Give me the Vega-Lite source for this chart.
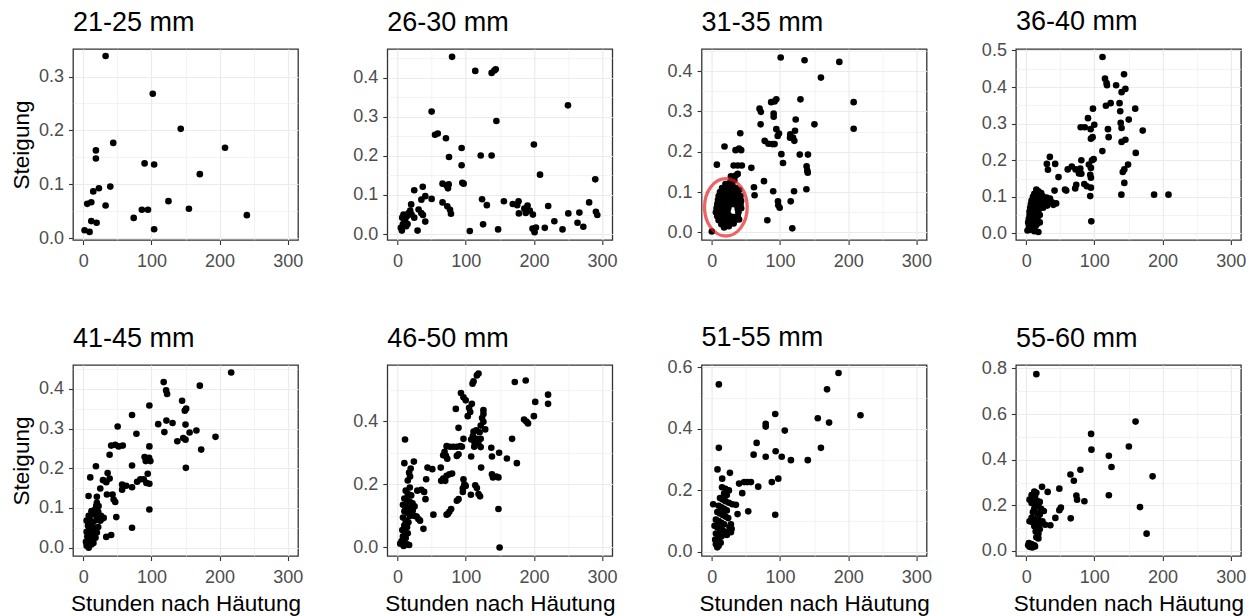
{
  "$schema": "https://vega.github.io/schema/vega-lite/v6.json",
  "background": "white",
  "padding": {"left": 9, "top": 7, "right": 2, "bottom": 2},
  "columns": 4,
  "bounds": "flush",
  "spacing": {"column": 89.3, "row": 125},
  "datasets": {
    "highlight": [{"hours": 20.6, "slope": 0.062}],
    "points": [
      {"group":"21-25 mm","hours":32.8,"slope":0.338},{"group":"21-25 mm","hours":102,"slope":0.268},{"group":"21-25 mm","hours":143,"slope":0.203},{"group":"21-25 mm","hours":208,"slope":0.168},{"group":"21-25 mm","hours":44,"slope":0.177},{"group":"21-25 mm","hours":18.6,"slope":0.163},{"group":"21-25 mm","hours":18.6,"slope":0.148},{"group":"21-25 mm","hours":90,"slope":0.139},{"group":"21-25 mm","hours":104,"slope":0.137},{"group":"21-25 mm","hours":171,"slope":0.119},{"group":"21-25 mm","hours":39.7,"slope":0.096},{"group":"21-25 mm","hours":23,"slope":0.093},{"group":"21-25 mm","hours":14.7,"slope":0.087},{"group":"21-25 mm","hours":11.8,"slope":0.067},{"group":"21-25 mm","hours":5.9,"slope":0.064},{"group":"21-25 mm","hours":32.8,"slope":0.061},{"group":"21-25 mm","hours":125,"slope":0.069},{"group":"21-25 mm","hours":86,"slope":0.053},{"group":"21-25 mm","hours":95,"slope":0.053},{"group":"21-25 mm","hours":155,"slope":0.055},{"group":"21-25 mm","hours":74,"slope":0.038},{"group":"21-25 mm","hours":11.8,"slope":0.032},{"group":"21-25 mm","hours":19.6,"slope":0.029},{"group":"21-25 mm","hours":240,"slope":0.043},{"group":"21-25 mm","hours":2,"slope":0.015},{"group":"21-25 mm","hours":9.3,"slope":0.012},{"group":"21-25 mm","hours":104,"slope":0.017},

      {"group":"26-30 mm","hours":80,"slope":0.453},{"group":"26-30 mm","hours":114,"slope":0.417},{"group":"26-30 mm","hours":138,"slope":0.412},{"group":"26-30 mm","hours":142,"slope":0.418},{"group":"26-30 mm","hours":144,"slope":0.421},{"group":"26-30 mm","hours":250,"slope":0.329},{"group":"26-30 mm","hours":50,"slope":0.313},{"group":"26-30 mm","hours":145,"slope":0.289},{"group":"26-30 mm","hours":55,"slope":0.254},{"group":"26-30 mm","hours":59,"slope":0.257},{"group":"26-30 mm","hours":71,"slope":0.245},{"group":"26-30 mm","hours":94,"slope":0.22},{"group":"26-30 mm","hours":200,"slope":0.229},{"group":"26-30 mm","hours":75.5,"slope":0.197},{"group":"26-30 mm","hours":122,"slope":0.201},{"group":"26-30 mm","hours":138,"slope":0.201},{"group":"26-30 mm","hours":94,"slope":0.176},{"group":"26-30 mm","hours":209,"slope":0.152},{"group":"26-30 mm","hours":290,"slope":0.14},{"group":"26-30 mm","hours":95,"slope":0.131},{"group":"26-30 mm","hours":97,"slope":0.129},{"group":"26-30 mm","hours":66,"slope":0.129},{"group":"26-30 mm","hours":72,"slope":0.124},{"group":"26-30 mm","hours":75,"slope":0.127},{"group":"26-30 mm","hours":74,"slope":0.117},{"group":"26-30 mm","hours":37,"slope":0.121},{"group":"26-30 mm","hours":24.5,"slope":0.112},{"group":"26-30 mm","hours":40.7,"slope":0.097},{"group":"26-30 mm","hours":50,"slope":0.09},{"group":"26-30 mm","hours":35,"slope":0.088},{"group":"26-30 mm","hours":66,"slope":0.081},{"group":"26-30 mm","hours":73,"slope":0.071},{"group":"26-30 mm","hours":77,"slope":0.062},{"group":"26-30 mm","hours":78.4,"slope":0.052},{"group":"26-30 mm","hours":124,"slope":0.089},{"group":"26-30 mm","hours":131,"slope":0.074},{"group":"26-30 mm","hours":156,"slope":0.084},{"group":"26-30 mm","hours":169,"slope":0.077},{"group":"26-30 mm","hours":177.5,"slope":0.084},{"group":"26-30 mm","hours":175.5,"slope":0.074},{"group":"26-30 mm","hours":178,"slope":0.053},{"group":"26-30 mm","hours":186,"slope":0.065},{"group":"26-30 mm","hours":190.7,"slope":0.073},{"group":"26-30 mm","hours":188,"slope":0.054},{"group":"26-30 mm","hours":194,"slope":0.06},{"group":"26-30 mm","hours":198.5,"slope":0.05},{"group":"26-30 mm","hours":221,"slope":0.072},{"group":"26-30 mm","hours":281,"slope":0.081},{"group":"26-30 mm","hours":250.5,"slope":0.053},{"group":"26-30 mm","hours":266.7,"slope":0.055},{"group":"26-30 mm","hours":264,"slope":0.029},{"group":"26-30 mm","hours":272.5,"slope":0.019},{"group":"26-30 mm","hours":291,"slope":0.057},{"group":"26-30 mm","hours":293,"slope":0.049},{"group":"26-30 mm","hours":216,"slope":0.016},{"group":"26-30 mm","hours":230,"slope":0.033},{"group":"26-30 mm","hours":242,"slope":0.012},{"group":"26-30 mm","hours":198,"slope":0.014},{"group":"26-30 mm","hours":201,"slope":0.005},{"group":"26-30 mm","hours":203,"slope":0.017},{"group":"26-30 mm","hours":125.5,"slope":0.025},{"group":"26-30 mm","hours":147.5,"slope":0.012},{"group":"26-30 mm","hours":106,"slope":0.008},{"group":"26-30 mm","hours":29.4,"slope":0.009},{"group":"26-30 mm","hours":4.9,"slope":0.016},{"group":"26-30 mm","hours":6.4,"slope":0.009},{"group":"26-30 mm","hours":7.8,"slope":0.025},{"group":"26-30 mm","hours":11.3,"slope":0.037},{"group":"26-30 mm","hours":13.7,"slope":0.046},{"group":"26-30 mm","hours":16.2,"slope":0.054},{"group":"26-30 mm","hours":18.6,"slope":0.06},{"group":"26-30 mm","hours":8.8,"slope":0.05},{"group":"26-30 mm","hours":10.3,"slope":0.033},{"group":"26-30 mm","hours":14.7,"slope":0.026},{"group":"26-30 mm","hours":20.6,"slope":0.05},{"group":"26-30 mm","hours":20,"slope":0.076},{"group":"26-30 mm","hours":24.5,"slope":0.042},{"group":"26-30 mm","hours":30.9,"slope":0.063},{"group":"26-30 mm","hours":34.8,"slope":0.054},{"group":"26-30 mm","hours":37.3,"slope":0.049},{"group":"26-30 mm","hours":40.7,"slope":0.032},{"group":"26-30 mm","hours":6.9,"slope":0.042},{"group":"26-30 mm","hours":12.7,"slope":0.02},

      {"group":"31-35 mm","hours":101,"slope":0.434},{"group":"31-35 mm","hours":136,"slope":0.427},{"group":"31-35 mm","hours":187,"slope":0.423},{"group":"31-35 mm","hours":160,"slope":0.384},{"group":"31-35 mm","hours":208,"slope":0.323},{"group":"31-35 mm","hours":208,"slope":0.257},{"group":"31-35 mm","hours":130,"slope":0.33},{"group":"31-35 mm","hours":87,"slope":0.323},{"group":"31-35 mm","hours":92,"slope":0.325},{"group":"31-35 mm","hours":94.6,"slope":0.33},{"group":"31-35 mm","hours":70,"slope":0.307},{"group":"31-35 mm","hours":72,"slope":0.299},{"group":"31-35 mm","hours":71.6,"slope":0.268},{"group":"31-35 mm","hours":90.7,"slope":0.295},{"group":"31-35 mm","hours":90.7,"slope":0.287},{"group":"31-35 mm","hours":123,"slope":0.28},{"group":"31-35 mm","hours":150.5,"slope":0.268},{"group":"31-35 mm","hours":94.6,"slope":0.256},{"group":"31-35 mm","hours":96.6,"slope":0.239},{"group":"31-35 mm","hours":98.5,"slope":0.245},{"group":"31-35 mm","hours":115,"slope":0.243},{"group":"31-35 mm","hours":119,"slope":0.235},{"group":"31-35 mm","hours":121,"slope":0.227},{"group":"31-35 mm","hours":122,"slope":0.252},{"group":"31-35 mm","hours":114.7,"slope":0.235},{"group":"31-35 mm","hours":41.7,"slope":0.246},{"group":"31-35 mm","hours":77.5,"slope":0.227},{"group":"31-35 mm","hours":83,"slope":0.22},{"group":"31-35 mm","hours":88.7,"slope":0.219},{"group":"31-35 mm","hours":92,"slope":0.219},{"group":"31-35 mm","hours":18.6,"slope":0.213},{"group":"31-35 mm","hours":34.8,"slope":0.204},{"group":"31-35 mm","hours":40,"slope":0.208},{"group":"31-35 mm","hours":43,"slope":0.204},{"group":"31-35 mm","hours":102,"slope":0.194},{"group":"31-35 mm","hours":129,"slope":0.193},{"group":"31-35 mm","hours":141,"slope":0.193},{"group":"31-35 mm","hours":104.4,"slope":0.172},{"group":"31-35 mm","hours":7.4,"slope":0.168},{"group":"31-35 mm","hours":32,"slope":0.166},{"group":"31-35 mm","hours":38,"slope":0.166},{"group":"31-35 mm","hours":44,"slope":0.166},{"group":"31-35 mm","hours":58,"slope":0.16},{"group":"31-35 mm","hours":139,"slope":0.164},{"group":"31-35 mm","hours":140,"slope":0.153},{"group":"31-35 mm","hours":140.7,"slope":0.148},{"group":"31-35 mm","hours":28,"slope":0.139},{"group":"31-35 mm","hours":35,"slope":0.141},{"group":"31-35 mm","hours":38,"slope":0.145},{"group":"31-35 mm","hours":76.5,"slope":0.127},{"group":"31-35 mm","hours":61.8,"slope":0.112},{"group":"31-35 mm","hours":62.7,"slope":0.092},{"group":"31-35 mm","hours":90,"slope":0.102},{"group":"31-35 mm","hours":120.6,"slope":0.102},{"group":"31-35 mm","hours":138.7,"slope":0.107},{"group":"31-35 mm","hours":97,"slope":0.077},{"group":"31-35 mm","hours":97.5,"slope":0.067},{"group":"31-35 mm","hours":99.5,"slope":0.061},{"group":"31-35 mm","hours":115.7,"slope":0.077},{"group":"31-35 mm","hours":81.4,"slope":0.03},{"group":"31-35 mm","hours":118,"slope":0.01},{"group":"31-35 mm","hours":0,"slope":0.002},
      {"group":"31-35 mm","hours":20,"slope":0.12},{"group":"31-35 mm","hours":27,"slope":0.125},{"group":"31-35 mm","hours":33,"slope":0.13},{"group":"31-35 mm","hours":30,"slope":0.118},{"group":"31-35 mm","hours":15,"slope":0.11},{"group":"31-35 mm","hours":22,"slope":0.108},{"group":"31-35 mm","hours":28,"slope":0.112},{"group":"31-35 mm","hours":35,"slope":0.11},{"group":"31-35 mm","hours":40,"slope":0.105},{"group":"31-35 mm","hours":12,"slope":0.1},{"group":"31-35 mm","hours":18,"slope":0.098},{"group":"31-35 mm","hours":24,"slope":0.1},{"group":"31-35 mm","hours":32,"slope":0.1},{"group":"31-35 mm","hours":38,"slope":0.097},{"group":"31-35 mm","hours":10,"slope":0.09},{"group":"31-35 mm","hours":16,"slope":0.088},{"group":"31-35 mm","hours":21,"slope":0.092},{"group":"31-35 mm","hours":27,"slope":0.09},{"group":"31-35 mm","hours":34,"slope":0.088},{"group":"31-35 mm","hours":42,"slope":0.09},{"group":"31-35 mm","hours":9,"slope":0.08},{"group":"31-35 mm","hours":14,"slope":0.078},{"group":"31-35 mm","hours":19,"slope":0.082},{"group":"31-35 mm","hours":25,"slope":0.08},{"group":"31-35 mm","hours":31,"slope":0.078},{"group":"31-35 mm","hours":37,"slope":0.08},{"group":"31-35 mm","hours":43,"slope":0.078},{"group":"31-35 mm","hours":8,"slope":0.07},{"group":"31-35 mm","hours":13,"slope":0.068},{"group":"31-35 mm","hours":18,"slope":0.072},{"group":"31-35 mm","hours":23,"slope":0.07},{"group":"31-35 mm","hours":29,"slope":0.07},{"group":"31-35 mm","hours":36,"slope":0.068},{"group":"31-35 mm","hours":42,"slope":0.07},{"group":"31-35 mm","hours":7,"slope":0.06},{"group":"31-35 mm","hours":12,"slope":0.058},{"group":"31-35 mm","hours":18,"slope":0.062},{"group":"31-35 mm","hours":24,"slope":0.06},{"group":"31-35 mm","hours":38,"slope":0.058},{"group":"31-35 mm","hours":43,"slope":0.06},{"group":"31-35 mm","hours":6,"slope":0.05},{"group":"31-35 mm","hours":11,"slope":0.048},{"group":"31-35 mm","hours":17,"slope":0.052},{"group":"31-35 mm","hours":23,"slope":0.05},{"group":"31-35 mm","hours":39,"slope":0.05},{"group":"31-35 mm","hours":8,"slope":0.04},{"group":"31-35 mm","hours":14,"slope":0.038},{"group":"31-35 mm","hours":20,"slope":0.042},{"group":"31-35 mm","hours":27,"slope":0.04},{"group":"31-35 mm","hours":33,"slope":0.038},{"group":"31-35 mm","hours":38,"slope":0.04},{"group":"31-35 mm","hours":10,"slope":0.03},{"group":"31-35 mm","hours":16,"slope":0.028},{"group":"31-35 mm","hours":22,"slope":0.03},{"group":"31-35 mm","hours":28,"slope":0.028},{"group":"31-35 mm","hours":34,"slope":0.03},{"group":"31-35 mm","hours":40,"slope":0.032},{"group":"31-35 mm","hours":14,"slope":0.02},{"group":"31-35 mm","hours":20,"slope":0.022},{"group":"31-35 mm","hours":26,"slope":0.02},{"group":"31-35 mm","hours":32,"slope":0.022},{"group":"31-35 mm","hours":18,"slope":0.012},{"group":"31-35 mm","hours":25,"slope":0.015},

      {"group":"36-40 mm","hours":112,"slope":0.482},{"group":"36-40 mm","hours":143.6,"slope":0.435},{"group":"36-40 mm","hours":115.7,"slope":0.423},{"group":"36-40 mm","hours":118,"slope":0.411},{"group":"36-40 mm","hours":118.6,"slope":0.405},{"group":"36-40 mm","hours":132,"slope":0.405},{"group":"36-40 mm","hours":145.6,"slope":0.395},{"group":"36-40 mm","hours":140,"slope":0.386},{"group":"36-40 mm","hours":117,"slope":0.349},{"group":"36-40 mm","hours":124,"slope":0.356},{"group":"36-40 mm","hours":137,"slope":0.356},{"group":"36-40 mm","hours":138,"slope":0.334},{"group":"36-40 mm","hours":160,"slope":0.341},{"group":"36-40 mm","hours":98,"slope":0.341},{"group":"36-40 mm","hours":90.7,"slope":0.315},{"group":"36-40 mm","hours":80,"slope":0.29},{"group":"36-40 mm","hours":86,"slope":0.29},{"group":"36-40 mm","hours":94.6,"slope":0.285},{"group":"36-40 mm","hours":100,"slope":0.297},{"group":"36-40 mm","hours":97.5,"slope":0.263},{"group":"36-40 mm","hours":95,"slope":0.259},{"group":"36-40 mm","hours":120,"slope":0.285},{"group":"36-40 mm","hours":121,"slope":0.263},{"group":"36-40 mm","hours":138.7,"slope":0.302},{"group":"36-40 mm","hours":140,"slope":0.288},{"group":"36-40 mm","hours":150.5,"slope":0.311},{"group":"36-40 mm","hours":171,"slope":0.281},{"group":"36-40 mm","hours":145.6,"slope":0.256},{"group":"36-40 mm","hours":140,"slope":0.25},{"group":"36-40 mm","hours":111.8,"slope":0.225},{"group":"36-40 mm","hours":160.8,"slope":0.22},{"group":"36-40 mm","hours":34.8,"slope":0.209},{"group":"36-40 mm","hours":30.4,"slope":0.19},{"group":"36-40 mm","hours":42.6,"slope":0.19},{"group":"36-40 mm","hours":32,"slope":0.174},{"group":"36-40 mm","hours":47.5,"slope":0.154},{"group":"36-40 mm","hours":41.7,"slope":0.117},{"group":"36-40 mm","hours":57,"slope":0.12},{"group":"36-40 mm","hours":58.8,"slope":0.117},{"group":"36-40 mm","hours":61,"slope":0.175},{"group":"36-40 mm","hours":67,"slope":0.183},{"group":"36-40 mm","hours":72.5,"slope":0.175},{"group":"36-40 mm","hours":79.4,"slope":0.177},{"group":"36-40 mm","hours":81,"slope":0.2},{"group":"36-40 mm","hours":77.5,"slope":0.164},{"group":"36-40 mm","hours":81,"slope":0.163},{"group":"36-40 mm","hours":73.5,"slope":0.133},{"group":"36-40 mm","hours":72,"slope":0.123},{"group":"36-40 mm","hours":85.3,"slope":0.135},{"group":"36-40 mm","hours":89,"slope":0.129},{"group":"36-40 mm","hours":95,"slope":0.125},{"group":"36-40 mm","hours":94,"slope":0.102},{"group":"36-40 mm","hours":92,"slope":0.188},{"group":"36-40 mm","hours":95,"slope":0.179},{"group":"36-40 mm","hours":96.6,"slope":0.2},{"group":"36-40 mm","hours":99,"slope":0.203},{"group":"36-40 mm","hours":94,"slope":0.16},{"group":"36-40 mm","hours":95,"slope":0.152},{"group":"36-40 mm","hours":95.6,"slope":0.033},{"group":"36-40 mm","hours":149.5,"slope":0.188},{"group":"36-40 mm","hours":144,"slope":0.175},{"group":"36-40 mm","hours":141.7,"slope":0.168},{"group":"36-40 mm","hours":144,"slope":0.138},{"group":"36-40 mm","hours":139.7,"slope":0.106},{"group":"36-40 mm","hours":187.7,"slope":0.106},{"group":"36-40 mm","hours":208.8,"slope":0.106},
      {"group":"36-40 mm","hours":15,"slope":0.12},{"group":"36-40 mm","hours":18,"slope":0.115},{"group":"36-40 mm","hours":12,"slope":0.108},{"group":"36-40 mm","hours":22,"slope":0.11},{"group":"36-40 mm","hours":10,"slope":0.1},{"group":"36-40 mm","hours":14,"slope":0.098},{"group":"36-40 mm","hours":18,"slope":0.1},{"group":"36-40 mm","hours":24,"slope":0.102},{"group":"36-40 mm","hours":30,"slope":0.098},{"group":"36-40 mm","hours":35,"slope":0.095},{"group":"36-40 mm","hours":8,"slope":0.09},{"group":"36-40 mm","hours":12,"slope":0.088},{"group":"36-40 mm","hours":16,"slope":0.09},{"group":"36-40 mm","hours":21,"slope":0.092},{"group":"36-40 mm","hours":27,"slope":0.09},{"group":"36-40 mm","hours":33,"slope":0.088},{"group":"36-40 mm","hours":38,"slope":0.085},{"group":"36-40 mm","hours":44,"slope":0.082},{"group":"36-40 mm","hours":7,"slope":0.08},{"group":"36-40 mm","hours":11,"slope":0.078},{"group":"36-40 mm","hours":15,"slope":0.08},{"group":"36-40 mm","hours":20,"slope":0.078},{"group":"36-40 mm","hours":26,"slope":0.08},{"group":"36-40 mm","hours":31,"slope":0.076},{"group":"36-40 mm","hours":40,"slope":0.078},{"group":"36-40 mm","hours":6,"slope":0.07},{"group":"36-40 mm","hours":10,"slope":0.068},{"group":"36-40 mm","hours":14,"slope":0.07},{"group":"36-40 mm","hours":19,"slope":0.068},{"group":"36-40 mm","hours":25,"slope":0.07},{"group":"36-40 mm","hours":5,"slope":0.06},{"group":"36-40 mm","hours":9,"slope":0.058},{"group":"36-40 mm","hours":13,"slope":0.06},{"group":"36-40 mm","hours":18,"slope":0.057},{"group":"36-40 mm","hours":5,"slope":0.05},{"group":"36-40 mm","hours":8,"slope":0.048},{"group":"36-40 mm","hours":12,"slope":0.05},{"group":"36-40 mm","hours":16,"slope":0.046},{"group":"36-40 mm","hours":20,"slope":0.05},{"group":"36-40 mm","hours":4,"slope":0.04},{"group":"36-40 mm","hours":8,"slope":0.038},{"group":"36-40 mm","hours":12,"slope":0.04},{"group":"36-40 mm","hours":17,"slope":0.036},{"group":"36-40 mm","hours":3,"slope":0.03},{"group":"36-40 mm","hours":7,"slope":0.028},{"group":"36-40 mm","hours":11,"slope":0.03},{"group":"36-40 mm","hours":16,"slope":0.026},{"group":"36-40 mm","hours":20,"slope":0.03},{"group":"36-40 mm","hours":4,"slope":0.02},{"group":"36-40 mm","hours":9,"slope":0.018},{"group":"36-40 mm","hours":14,"slope":0.02},{"group":"36-40 mm","hours":2,"slope":0.008},{"group":"36-40 mm","hours":6,"slope":0.01},{"group":"36-40 mm","hours":12,"slope":0.006},{"group":"36-40 mm","hours":18,"slope":0.004},

      {"group":"41-45 mm","hours":217,"slope":0.441},{"group":"41-45 mm","hours":118,"slope":0.417},{"group":"41-45 mm","hours":171,"slope":0.408},{"group":"41-45 mm","hours":121.6,"slope":0.396},{"group":"41-45 mm","hours":123,"slope":0.387},{"group":"41-45 mm","hours":97,"slope":0.358},{"group":"41-45 mm","hours":145,"slope":0.37},{"group":"41-45 mm","hours":151,"slope":0.35},{"group":"41-45 mm","hours":149,"slope":0.345},{"group":"41-45 mm","hours":71.6,"slope":0.334},{"group":"41-45 mm","hours":50.5,"slope":0.305},{"group":"41-45 mm","hours":110,"slope":0.311},{"group":"41-45 mm","hours":119,"slope":0.291},{"group":"41-45 mm","hours":122,"slope":0.32},{"group":"41-45 mm","hours":131,"slope":0.314},{"group":"41-45 mm","hours":150,"slope":0.31},{"group":"41-45 mm","hours":78,"slope":0.287},{"group":"41-45 mm","hours":166,"slope":0.295},{"group":"41-45 mm","hours":156,"slope":0.29},{"group":"41-45 mm","hours":194,"slope":0.279},{"group":"41-45 mm","hours":138,"slope":0.268},{"group":"41-45 mm","hours":146.6,"slope":0.276},{"group":"41-45 mm","hours":150,"slope":0.272},{"group":"41-45 mm","hours":173,"slope":0.247},{"group":"41-45 mm","hours":150.5,"slope":0.201},{"group":"41-45 mm","hours":41,"slope":0.257},{"group":"41-45 mm","hours":47,"slope":0.259},{"group":"41-45 mm","hours":52,"slope":0.255},{"group":"41-45 mm","hours":58,"slope":0.257},{"group":"41-45 mm","hours":97,"slope":0.255},{"group":"41-45 mm","hours":38.7,"slope":0.234},{"group":"41-45 mm","hours":90,"slope":0.228},{"group":"41-45 mm","hours":93.6,"slope":0.222},{"group":"41-45 mm","hours":96.6,"slope":0.226},{"group":"41-45 mm","hours":98.5,"slope":0.218},{"group":"41-45 mm","hours":91.7,"slope":0.218},{"group":"41-45 mm","hours":71.6,"slope":0.207},{"group":"41-45 mm","hours":18.6,"slope":0.205},{"group":"41-45 mm","hours":94.6,"slope":0.186},{"group":"41-45 mm","hours":97,"slope":0.161},{"group":"41-45 mm","hours":35.8,"slope":0.188},{"group":"41-45 mm","hours":38.7,"slope":0.174},{"group":"41-45 mm","hours":29,"slope":0.17},{"group":"41-45 mm","hours":33.8,"slope":0.165},{"group":"41-45 mm","hours":10.3,"slope":0.177},{"group":"41-45 mm","hours":57,"slope":0.159},{"group":"41-45 mm","hours":57,"slope":0.146},{"group":"41-45 mm","hours":63,"slope":0.156},{"group":"41-45 mm","hours":71.6,"slope":0.152},{"group":"41-45 mm","hours":79,"slope":0.166},{"group":"41-45 mm","hours":83.8,"slope":0.172},{"group":"41-45 mm","hours":88.7,"slope":0.172},{"group":"41-45 mm","hours":92.6,"slope":0.163},{"group":"41-45 mm","hours":25,"slope":0.149},{"group":"41-45 mm","hours":20,"slope":0.128},{"group":"41-45 mm","hours":34.8,"slope":0.134},{"group":"41-45 mm","hours":43,"slope":0.134},{"group":"41-45 mm","hours":44.6,"slope":0.121},{"group":"41-45 mm","hours":47,"slope":0.115},{"group":"41-45 mm","hours":48.5,"slope":0.077},{"group":"41-45 mm","hours":97,"slope":0.096},{"group":"41-45 mm","hours":7.8,"slope":0.13},{"group":"41-45 mm","hours":20,"slope":0.113},{"group":"41-45 mm","hours":22.5,"slope":0.105},{"group":"41-45 mm","hours":19,"slope":0.105},{"group":"41-45 mm","hours":33.8,"slope":0.027},{"group":"41-45 mm","hours":41,"slope":0.032},{"group":"41-45 mm","hours":71.6,"slope":0.05},{"group":"41-45 mm","hours":27.5,"slope":0.073},
      {"group":"41-45 mm","hours":5,"slope":0.005},{"group":"41-45 mm","hours":8,"slope":0.0},{"group":"41-45 mm","hours":12,"slope":0.008},{"group":"41-45 mm","hours":4,"slope":0.015},{"group":"41-45 mm","hours":10,"slope":0.02},{"group":"41-45 mm","hours":15,"slope":0.012},{"group":"41-45 mm","hours":6,"slope":0.028},{"group":"41-45 mm","hours":12,"slope":0.03},{"group":"41-45 mm","hours":18,"slope":0.025},{"group":"41-45 mm","hours":5,"slope":0.04},{"group":"41-45 mm","hours":9,"slope":0.045},{"group":"41-45 mm","hours":14,"slope":0.04},{"group":"41-45 mm","hours":20,"slope":0.038},{"group":"41-45 mm","hours":7,"slope":0.055},{"group":"41-45 mm","hours":12,"slope":0.058},{"group":"41-45 mm","hours":17,"slope":0.05},{"group":"41-45 mm","hours":22,"slope":0.052},{"group":"41-45 mm","hours":5,"slope":0.068},{"group":"41-45 mm","hours":10,"slope":0.07},{"group":"41-45 mm","hours":15,"slope":0.065},{"group":"41-45 mm","hours":20,"slope":0.07},{"group":"41-45 mm","hours":25,"slope":0.068},{"group":"41-45 mm","hours":8,"slope":0.08},{"group":"41-45 mm","hours":13,"slope":0.085},{"group":"41-45 mm","hours":18,"slope":0.082},{"group":"41-45 mm","hours":12,"slope":0.092},{"group":"41-45 mm","hours":17,"slope":0.095},{"group":"41-45 mm","hours":22,"slope":0.09},{"group":"41-45 mm","hours":26,"slope":0.08},{"group":"41-45 mm","hours":30,"slope":0.075},

      {"group":"46-50 mm","hours":118.8,"slope":0.551},{"group":"46-50 mm","hours":116.4,"slope":0.545},{"group":"46-50 mm","hours":111.5,"slope":0.526},{"group":"46-50 mm","hours":110,"slope":0.519},{"group":"46-50 mm","hours":172,"slope":0.524},{"group":"46-50 mm","hours":188,"slope":0.529},{"group":"46-50 mm","hours":220.8,"slope":0.484},{"group":"46-50 mm","hours":220.8,"slope":0.455},{"group":"46-50 mm","hours":202,"slope":0.461},{"group":"46-50 mm","hours":200,"slope":0.416},{"group":"46-50 mm","hours":185.6,"slope":0.405},{"group":"46-50 mm","hours":189,"slope":0.399},{"group":"46-50 mm","hours":191.4,"slope":0.393},{"group":"46-50 mm","hours":93,"slope":0.489},{"group":"46-50 mm","hours":96.7,"slope":0.476},{"group":"46-50 mm","hours":100,"slope":0.466},{"group":"46-50 mm","hours":109,"slope":0.455},{"group":"46-50 mm","hours":105,"slope":0.442},{"group":"46-50 mm","hours":106.6,"slope":0.429},{"group":"46-50 mm","hours":103,"slope":0.416},{"group":"46-50 mm","hours":85.5,"slope":0.439},{"group":"46-50 mm","hours":126,"slope":0.435},{"group":"46-50 mm","hours":126,"slope":0.423},{"group":"46-50 mm","hours":124,"slope":0.41},{"group":"46-50 mm","hours":126,"slope":0.398},{"group":"46-50 mm","hours":122,"slope":0.386},{"group":"46-50 mm","hours":128.6,"slope":0.374},{"group":"46-50 mm","hours":120.4,"slope":0.365},{"group":"46-50 mm","hours":89.5,"slope":0.379},{"group":"46-50 mm","hours":111.5,"slope":0.367},{"group":"46-50 mm","hours":115.4,"slope":0.371},{"group":"46-50 mm","hours":110.5,"slope":0.353},{"group":"46-50 mm","hours":108,"slope":0.342},{"group":"46-50 mm","hours":113,"slope":0.332},{"group":"46-50 mm","hours":116.4,"slope":0.344},{"group":"46-50 mm","hours":118.8,"slope":0.327},{"group":"46-50 mm","hours":122,"slope":0.318},{"group":"46-50 mm","hours":122,"slope":0.344},{"group":"46-50 mm","hours":96.7,"slope":0.344},{"group":"46-50 mm","hours":137.5,"slope":0.316},{"group":"46-50 mm","hours":138.5,"slope":0.288},{"group":"46-50 mm","hours":149,"slope":0.3},{"group":"46-50 mm","hours":168,"slope":0.344},{"group":"46-50 mm","hours":160.5,"slope":0.282},{"group":"46-50 mm","hours":175,"slope":0.267},{"group":"46-50 mm","hours":112.5,"slope":0.319},{"group":"46-50 mm","hours":72,"slope":0.321},{"group":"46-50 mm","hours":77,"slope":0.319},{"group":"46-50 mm","hours":82,"slope":0.319},{"group":"46-50 mm","hours":87,"slope":0.319},{"group":"46-50 mm","hours":92,"slope":0.321},{"group":"46-50 mm","hours":94.4,"slope":0.319},{"group":"46-50 mm","hours":69,"slope":0.303},{"group":"46-50 mm","hours":71,"slope":0.29},{"group":"46-50 mm","hours":73,"slope":0.281},{"group":"46-50 mm","hours":67,"slope":0.292},{"group":"46-50 mm","hours":87,"slope":0.29},{"group":"46-50 mm","hours":89.5,"slope":0.295},{"group":"46-50 mm","hours":108,"slope":0.288},{"group":"46-50 mm","hours":11,"slope":0.342},{"group":"46-50 mm","hours":24,"slope":0.272},{"group":"46-50 mm","hours":10,"slope":0.267},{"group":"46-50 mm","hours":19.3,"slope":0.25},{"group":"46-50 mm","hours":17,"slope":0.237},{"group":"46-50 mm","hours":18.4,"slope":0.225},{"group":"46-50 mm","hours":15,"slope":0.212},{"group":"46-50 mm","hours":44,"slope":0.253},{"group":"46-50 mm","hours":51,"slope":0.248},{"group":"46-50 mm","hours":63.4,"slope":0.253},{"group":"46-50 mm","hours":42,"slope":0.216},{"group":"46-50 mm","hours":67,"slope":0.218},{"group":"46-50 mm","hours":72,"slope":0.227},{"group":"46-50 mm","hours":76,"slope":0.232},{"group":"46-50 mm","hours":80,"slope":0.234},{"group":"46-50 mm","hours":70,"slope":0.211},{"group":"46-50 mm","hours":64,"slope":0.211},{"group":"46-50 mm","hours":96.7,"slope":0.216},{"group":"46-50 mm","hours":98,"slope":0.2},{"group":"46-50 mm","hours":95.8,"slope":0.187},{"group":"46-50 mm","hours":95.8,"slope":0.176},{"group":"46-50 mm","hours":100,"slope":0.195},{"group":"46-50 mm","hours":107.6,"slope":0.167},{"group":"46-50 mm","hours":114,"slope":0.197},{"group":"46-50 mm","hours":116.4,"slope":0.188},{"group":"46-50 mm","hours":118.8,"slope":0.169},{"group":"46-50 mm","hours":121,"slope":0.162},{"group":"46-50 mm","hours":122.6,"slope":0.253},{"group":"46-50 mm","hours":138.5,"slope":0.232},{"group":"46-50 mm","hours":140,"slope":0.222},{"group":"46-50 mm","hours":145,"slope":0.225},{"group":"46-50 mm","hours":148,"slope":0.222},{"group":"46-50 mm","hours":148,"slope":0.122},{"group":"46-50 mm","hours":149.7,"slope":0.0},{"group":"46-50 mm","hours":29,"slope":0.18},{"group":"46-50 mm","hours":35,"slope":0.183},{"group":"46-50 mm","hours":39,"slope":0.176},{"group":"46-50 mm","hours":41,"slope":0.153},{"group":"46-50 mm","hours":52.6,"slope":0.104},{"group":"46-50 mm","hours":72,"slope":0.104},{"group":"46-50 mm","hours":76,"slope":0.113},{"group":"46-50 mm","hours":78.6,"slope":0.122},{"group":"46-50 mm","hours":73.8,"slope":0.106},{"group":"46-50 mm","hours":87,"slope":0.148},{"group":"46-50 mm","hours":89.5,"slope":0.153},{"group":"46-50 mm","hours":28,"slope":0.098},{"group":"46-50 mm","hours":30.6,"slope":0.09},{"group":"46-50 mm","hours":33,"slope":0.085},{"group":"46-50 mm","hours":38,"slope":0.059},{"group":"46-50 mm","hours":22.3,"slope":0.117},{"group":"46-50 mm","hours":25,"slope":0.1},
      {"group":"46-50 mm","hours":18,"slope":0.19},{"group":"46-50 mm","hours":12,"slope":0.18},{"group":"46-50 mm","hours":15,"slope":0.17},{"group":"46-50 mm","hours":20,"slope":0.165},{"group":"46-50 mm","hours":10,"slope":0.155},{"group":"46-50 mm","hours":14,"slope":0.15},{"group":"46-50 mm","hours":18,"slope":0.145},{"group":"46-50 mm","hours":22,"slope":0.14},{"group":"46-50 mm","hours":8,"slope":0.135},{"group":"46-50 mm","hours":12,"slope":0.13},{"group":"46-50 mm","hours":16,"slope":0.125},{"group":"46-50 mm","hours":20,"slope":0.12},{"group":"46-50 mm","hours":25,"slope":0.13},{"group":"46-50 mm","hours":10,"slope":0.115},{"group":"46-50 mm","hours":14,"slope":0.11},{"group":"46-50 mm","hours":18,"slope":0.1},{"group":"46-50 mm","hours":8,"slope":0.095},{"group":"46-50 mm","hours":12,"slope":0.085},{"group":"46-50 mm","hours":16,"slope":0.08},{"group":"46-50 mm","hours":10,"slope":0.07},{"group":"46-50 mm","hours":14,"slope":0.065},{"group":"46-50 mm","hours":7,"slope":0.055},{"group":"46-50 mm","hours":11,"slope":0.05},{"group":"46-50 mm","hours":15,"slope":0.045},{"group":"46-50 mm","hours":8,"slope":0.035},{"group":"46-50 mm","hours":12,"slope":0.03},{"group":"46-50 mm","hours":6,"slope":0.02},{"group":"46-50 mm","hours":10,"slope":0.015},{"group":"46-50 mm","hours":14,"slope":0.01},{"group":"46-50 mm","hours":4,"slope":0.012},{"group":"46-50 mm","hours":17,"slope":0.008},{"group":"46-50 mm","hours":9,"slope":0.005},

      {"group":"51-55 mm","hours":185.8,"slope":0.581},{"group":"51-55 mm","hours":169,"slope":0.528},{"group":"51-55 mm","hours":172,"slope":0.42},{"group":"51-55 mm","hours":155.4,"slope":0.434},{"group":"51-55 mm","hours":218,"slope":0.444},{"group":"51-55 mm","hours":160,"slope":0.338},{"group":"51-55 mm","hours":140.7,"slope":0.298},{"group":"51-55 mm","hours":10.3,"slope":0.544},{"group":"51-55 mm","hours":93,"slope":0.448},{"group":"51-55 mm","hours":79,"slope":0.416},{"group":"51-55 mm","hours":79,"slope":0.407},{"group":"51-55 mm","hours":107,"slope":0.394},{"group":"51-55 mm","hours":65.7,"slope":0.354},{"group":"51-55 mm","hours":10.3,"slope":0.338},{"group":"51-55 mm","hours":61.3,"slope":0.316},{"group":"51-55 mm","hours":79,"slope":0.309},{"group":"51-55 mm","hours":93.6,"slope":0.327},{"group":"51-55 mm","hours":102.5,"slope":0.309},{"group":"51-55 mm","hours":116,"slope":0.298},{"group":"51-55 mm","hours":8.3,"slope":0.268},{"group":"51-55 mm","hours":15.2,"slope":0.238},{"group":"51-55 mm","hours":26.5,"slope":0.257},{"group":"51-55 mm","hours":40,"slope":0.222},{"group":"51-55 mm","hours":47.5,"slope":0.227},{"group":"51-55 mm","hours":52,"slope":0.227},{"group":"51-55 mm","hours":57.4,"slope":0.227},{"group":"51-55 mm","hours":68,"slope":0.212},{"group":"51-55 mm","hours":88,"slope":0.227},{"group":"51-55 mm","hours":97.5,"slope":0.238},{"group":"51-55 mm","hours":93,"slope":0.121},{"group":"51-55 mm","hours":44.6,"slope":0.191},{"group":"51-55 mm","hours":53.4,"slope":0.132},{"group":"51-55 mm","hours":2,"slope":0.155},{"group":"51-55 mm","hours":37.7,"slope":0.123},{"group":"51-55 mm","hours":35.3,"slope":0.153},{"group":"51-55 mm","hours":29,"slope":0.075},{"group":"51-55 mm","hours":28,"slope":0.064},
      {"group":"51-55 mm","hours":15,"slope":0.21},{"group":"51-55 mm","hours":20,"slope":0.205},{"group":"51-55 mm","hours":25,"slope":0.2},{"group":"51-55 mm","hours":18,"slope":0.19},{"group":"51-55 mm","hours":22,"slope":0.185},{"group":"51-55 mm","hours":12,"slope":0.175},{"group":"51-55 mm","hours":16,"slope":0.17},{"group":"51-55 mm","hours":20,"slope":0.165},{"group":"51-55 mm","hours":25,"slope":0.16},{"group":"51-55 mm","hours":30,"slope":0.155},{"group":"51-55 mm","hours":10,"slope":0.15},{"group":"51-55 mm","hours":14,"slope":0.145},{"group":"51-55 mm","hours":18,"slope":0.14},{"group":"51-55 mm","hours":22,"slope":0.135},{"group":"51-55 mm","hours":8,"slope":0.13},{"group":"51-55 mm","hours":12,"slope":0.125},{"group":"51-55 mm","hours":16,"slope":0.12},{"group":"51-55 mm","hours":20,"slope":0.115},{"group":"51-55 mm","hours":24,"slope":0.11},{"group":"51-55 mm","hours":6,"slope":0.105},{"group":"51-55 mm","hours":10,"slope":0.1},{"group":"51-55 mm","hours":14,"slope":0.095},{"group":"51-55 mm","hours":18,"slope":0.09},{"group":"51-55 mm","hours":4,"slope":0.085},{"group":"51-55 mm","hours":8,"slope":0.08},{"group":"51-55 mm","hours":12,"slope":0.075},{"group":"51-55 mm","hours":16,"slope":0.07},{"group":"51-55 mm","hours":20,"slope":0.065},{"group":"51-55 mm","hours":6,"slope":0.06},{"group":"51-55 mm","hours":10,"slope":0.055},{"group":"51-55 mm","hours":14,"slope":0.05},{"group":"51-55 mm","hours":22,"slope":0.055},{"group":"51-55 mm","hours":5,"slope":0.04},{"group":"51-55 mm","hours":9,"slope":0.035},{"group":"51-55 mm","hours":13,"slope":0.03},{"group":"51-55 mm","hours":6,"slope":0.025},{"group":"51-55 mm","hours":8,"slope":0.015},{"group":"51-55 mm","hours":10,"slope":0.02},{"group":"51-55 mm","hours":26,"slope":0.08},{"group":"51-55 mm","hours":28,"slope":0.09},

      {"group":"55-60 mm","hours":15,"slope":0.775},{"group":"55-60 mm","hours":160.5,"slope":0.567},{"group":"55-60 mm","hours":95.3,"slope":0.513},{"group":"55-60 mm","hours":95.8,"slope":0.444},{"group":"55-60 mm","hours":150.7,"slope":0.458},{"group":"55-60 mm","hours":121.3,"slope":0.417},{"group":"55-60 mm","hours":125.2,"slope":0.368},{"group":"55-60 mm","hours":185.5,"slope":0.327},{"group":"55-60 mm","hours":65,"slope":0.335},{"group":"55-60 mm","hours":70,"slope":0.308},{"group":"55-60 mm","hours":79.6,"slope":0.356},{"group":"55-60 mm","hours":73.7,"slope":0.243},{"group":"55-60 mm","hours":74.7,"slope":0.225},{"group":"55-60 mm","hours":85.5,"slope":0.218},{"group":"55-60 mm","hours":121.3,"slope":0.244},{"group":"55-60 mm","hours":167,"slope":0.192},{"group":"55-60 mm","hours":176.7,"slope":0.076},{"group":"55-60 mm","hours":48.7,"slope":0.273},{"group":"55-60 mm","hours":51,"slope":0.19},{"group":"55-60 mm","hours":48.7,"slope":0.179},{"group":"55-60 mm","hours":42.9,"slope":0.145},{"group":"55-60 mm","hours":65.4,"slope":0.143},{"group":"55-60 mm","hours":35.5,"slope":0.113},{"group":"55-60 mm","hours":23.3,"slope":0.281},{"group":"55-60 mm","hours":31.6,"slope":0.259},
      {"group":"55-60 mm","hours":12,"slope":0.26},{"group":"55-60 mm","hours":15,"slope":0.255},{"group":"55-60 mm","hours":8,"slope":0.245},{"group":"55-60 mm","hours":13,"slope":0.24},{"group":"55-60 mm","hours":5,"slope":0.225},{"group":"55-60 mm","hours":10,"slope":0.23},{"group":"55-60 mm","hours":16,"slope":0.22},{"group":"55-60 mm","hours":20,"slope":0.215},{"group":"55-60 mm","hours":8,"slope":0.21},{"group":"55-60 mm","hours":14,"slope":0.2},{"group":"55-60 mm","hours":18,"slope":0.195},{"group":"55-60 mm","hours":22,"slope":0.185},{"group":"55-60 mm","hours":12,"slope":0.185},{"group":"55-60 mm","hours":26,"slope":0.175},{"group":"55-60 mm","hours":10,"slope":0.17},{"group":"55-60 mm","hours":16,"slope":0.165},{"group":"55-60 mm","hours":20,"slope":0.16},{"group":"55-60 mm","hours":8,"slope":0.145},{"group":"55-60 mm","hours":12,"slope":0.14},{"group":"55-60 mm","hours":18,"slope":0.138},{"group":"55-60 mm","hours":24,"slope":0.13},{"group":"55-60 mm","hours":5,"slope":0.13},{"group":"55-60 mm","hours":10,"slope":0.125},{"group":"55-60 mm","hours":15,"slope":0.12},{"group":"55-60 mm","hours":20,"slope":0.118},{"group":"55-60 mm","hours":28,"slope":0.115},{"group":"55-60 mm","hours":12,"slope":0.108},{"group":"55-60 mm","hours":16,"slope":0.1},{"group":"55-60 mm","hours":20,"slope":0.095},{"group":"55-60 mm","hours":14,"slope":0.085},{"group":"55-60 mm","hours":18,"slope":0.075},{"group":"55-60 mm","hours":15,"slope":0.06},{"group":"55-60 mm","hours":18,"slope":0.055},{"group":"55-60 mm","hours":4,"slope":0.035},{"group":"55-60 mm","hours":8,"slope":0.03},{"group":"55-60 mm","hours":12,"slope":0.025},{"group":"55-60 mm","hours":5,"slope":0.018},{"group":"55-60 mm","hours":9,"slope":0.015},{"group":"55-60 mm","hours":13,"slope":0.02},{"group":"55-60 mm","hours":3,"slope":0.025}
    ]
  },
  "concat": [
    {
      "title": {"text": "21-25 mm", "offset": 12.5}, "width": 225, "height": 191,
      "data": {"name": "points"},
      "transform": [{"filter": "datum.group === '21-25 mm'"}],
      "mark": {"type": "circle", "size": 44, "color": "black", "opacity": 1},
      "encoding": {
        "x": {"field": "hours", "type": "quantitative", "scale": {"domain": [-15, 315], "nice": false, "zero": false},
          "axis": {"title": null, "values": [0, 50, 100, 150, 200, 250, 300], "labelExpr": "datum.value % 100 === 0 ? datum.label : ''", "labelFontSize": {"condition": {"test": "datum.value % 100 !== 0", "value": 0.1}, "value": 18}, "tickOpacity": {"condition": {"test": "datum.value % 100 !== 0", "value": 0}, "value": 1}, "gridWidth": {"condition": {"test": "datum.value % 100 !== 0", "value": 0.6}, "value": 1.2}}},
        "y": {"field": "slope", "type": "quantitative", "scale": {"domain": [-0.003, 0.351], "nice": false, "zero": false},
          "axis": {"title": "Steigung", "values": [0, 0.05, 0.1, 0.15, 0.2, 0.25, 0.3], "labelExpr": "abs(datum.value*10-round(datum.value*10)) < 0.001 ? format(datum.value, '.1f') : ''", "labelFontSize": {"condition": {"test": "abs(datum.value*10-round(datum.value*10)) > 0.001", "value": 0.1}, "value": 18}, "tickOpacity": {"condition": {"test": "abs(datum.value*10-round(datum.value*10)) > 0.001", "value": 0}, "value": 1}, "gridWidth": {"condition": {"test": "abs(datum.value*10-round(datum.value*10)) > 0.001", "value": 0.6}, "value": 1.2}}}
      }
    },
    {
      "title": {"text": "26-30 mm", "offset": 12.5}, "width": 225, "height": 191,
      "data": {"name": "points"},
      "transform": [{"filter": "datum.group === '26-30 mm'"}],
      "mark": {"type": "circle", "size": 44, "color": "black", "opacity": 1},
      "encoding": {
        "x": {"field": "hours", "type": "quantitative", "scale": {"domain": [-15, 315], "nice": false, "zero": false},
          "axis": {"title": null, "values": [0, 50, 100, 150, 200, 250, 300], "labelExpr": "datum.value % 100 === 0 ? datum.label : ''", "labelFontSize": {"condition": {"test": "datum.value % 100 !== 0", "value": 0.1}, "value": 18}, "tickOpacity": {"condition": {"test": "datum.value % 100 !== 0", "value": 0}, "value": 1}, "gridWidth": {"condition": {"test": "datum.value % 100 !== 0", "value": 0.6}, "value": 1.2}}},
        "y": {"field": "slope", "type": "quantitative", "scale": {"domain": [-0.015, 0.473], "nice": false, "zero": false},
          "axis": {"title": null, "values": [0, 0.05, 0.1, 0.15, 0.2, 0.25, 0.3, 0.35, 0.4, 0.45], "labelExpr": "abs(datum.value*10-round(datum.value*10)) < 0.001 ? format(datum.value, '.1f') : ''", "labelFontSize": {"condition": {"test": "abs(datum.value*10-round(datum.value*10)) > 0.001", "value": 0.1}, "value": 18}, "tickOpacity": {"condition": {"test": "abs(datum.value*10-round(datum.value*10)) > 0.001", "value": 0}, "value": 1}, "gridWidth": {"condition": {"test": "abs(datum.value*10-round(datum.value*10)) > 0.001", "value": 0.6}, "value": 1.2}}}
      }
    },
    {
      "title": {"text": "31-35 mm", "offset": 12.5}, "width": 225, "height": 191,
      "encoding": {
        "x": {"field": "hours", "type": "quantitative", "scale": {"domain": [-15, 315], "nice": false, "zero": false},
          "axis": {"title": null, "values": [0, 50, 100, 150, 200, 250, 300], "labelExpr": "datum.value % 100 === 0 ? datum.label : ''", "labelFontSize": {"condition": {"test": "datum.value % 100 !== 0", "value": 0.1}, "value": 18}, "tickOpacity": {"condition": {"test": "datum.value % 100 !== 0", "value": 0}, "value": 1}, "gridWidth": {"condition": {"test": "datum.value % 100 !== 0", "value": 0.6}, "value": 1.2}}},
        "y": {"field": "slope", "type": "quantitative", "scale": {"domain": [-0.019, 0.455], "nice": false, "zero": false},
          "axis": {"title": null, "values": [0, 0.05, 0.1, 0.15, 0.2, 0.25, 0.3, 0.35, 0.4, 0.45], "labelExpr": "abs(datum.value*10-round(datum.value*10)) < 0.001 ? format(datum.value, '.1f') : ''", "labelFontSize": {"condition": {"test": "abs(datum.value*10-round(datum.value*10)) > 0.001", "value": 0.1}, "value": 18}, "tickOpacity": {"condition": {"test": "abs(datum.value*10-round(datum.value*10)) > 0.001", "value": 0}, "value": 1}, "gridWidth": {"condition": {"test": "abs(datum.value*10-round(datum.value*10)) > 0.001", "value": 0.6}, "value": 1.2}}}
      },
      "layer": [
        {
          "data": {"name": "points"},
          "transform": [{"filter": "datum.group === '31-35 mm'"}],
          "mark": {"type": "circle", "size": 44, "color": "black", "opacity": 1}
        },
        {
          "data": {"name": "highlight"},
          "mark": {"type": "point", "shape": "M -0.745 0 A 0.745 1 0 1 0 0.745 0 A 0.745 1 0 1 0 -0.745 0 Z", "size": 3283, "filled": false, "color": "#E41A1C", "stroke": "#E41A1C", "strokeWidth": 3.3, "strokeOpacity": 0.68, "opacity": 1}
        }
      ]
    },
    {
      "title": {"text": "36-40 mm", "offset": 5}, "width": 225, "height": 191,
      "data": {"name": "points"},
      "transform": [{"filter": "datum.group === '36-40 mm'"}],
      "mark": {"type": "circle", "size": 44, "color": "black", "opacity": 1},
      "encoding": {
        "x": {"field": "hours", "type": "quantitative", "scale": {"domain": [-15, 315], "nice": false, "zero": false},
          "axis": {"title": null, "values": [0, 50, 100, 150, 200, 250, 300], "labelExpr": "datum.value % 100 === 0 ? datum.label : ''", "labelFontSize": {"condition": {"test": "datum.value % 100 !== 0", "value": 0.1}, "value": 18}, "tickOpacity": {"condition": {"test": "datum.value % 100 !== 0", "value": 0}, "value": 1}, "gridWidth": {"condition": {"test": "datum.value % 100 !== 0", "value": 0.6}, "value": 1.2}}},
        "y": {"field": "slope", "type": "quantitative", "scale": {"domain": [-0.018, 0.504], "nice": false, "zero": false},
          "axis": {"title": null, "values": [0, 0.05, 0.1, 0.15, 0.2, 0.25, 0.3, 0.35, 0.4, 0.45, 0.5], "labelExpr": "abs(datum.value*10-round(datum.value*10)) < 0.001 ? format(datum.value, '.1f') : ''", "labelFontSize": {"condition": {"test": "abs(datum.value*10-round(datum.value*10)) > 0.001", "value": 0.1}, "value": 18}, "tickOpacity": {"condition": {"test": "abs(datum.value*10-round(datum.value*10)) > 0.001", "value": 0}, "value": 1}, "gridWidth": {"condition": {"test": "abs(datum.value*10-round(datum.value*10)) > 0.001", "value": 0.6}, "value": 1.2}}}
      }
    },
    {
      "title": {"text": "41-45 mm", "offset": 12.5}, "width": 225, "height": 191,
      "data": {"name": "points"},
      "transform": [{"filter": "datum.group === '41-45 mm'"}],
      "mark": {"type": "circle", "size": 44, "color": "black", "opacity": 1},
      "encoding": {
        "x": {"field": "hours", "type": "quantitative", "scale": {"domain": [-15, 315], "nice": false, "zero": false},
          "axis": {"title": "Stunden nach Häutung", "values": [0, 50, 100, 150, 200, 250, 300], "labelExpr": "datum.value % 100 === 0 ? datum.label : ''", "labelFontSize": {"condition": {"test": "datum.value % 100 !== 0", "value": 0.1}, "value": 18}, "tickOpacity": {"condition": {"test": "datum.value % 100 !== 0", "value": 0}, "value": 1}, "gridWidth": {"condition": {"test": "datum.value % 100 !== 0", "value": 0.6}, "value": 1.2}}},
        "y": {"field": "slope", "type": "quantitative", "scale": {"domain": [-0.021, 0.46], "nice": false, "zero": false},
          "axis": {"title": "Steigung", "values": [0, 0.05, 0.1, 0.15, 0.2, 0.25, 0.3, 0.35, 0.4, 0.45], "labelExpr": "abs(datum.value*10-round(datum.value*10)) < 0.001 ? format(datum.value, '.1f') : ''", "labelFontSize": {"condition": {"test": "abs(datum.value*10-round(datum.value*10)) > 0.001", "value": 0.1}, "value": 18}, "tickOpacity": {"condition": {"test": "abs(datum.value*10-round(datum.value*10)) > 0.001", "value": 0}, "value": 1}, "gridWidth": {"condition": {"test": "abs(datum.value*10-round(datum.value*10)) > 0.001", "value": 0.6}, "value": 1.2}}}
      }
    },
    {
      "title": {"text": "46-50 mm", "offset": 12.5}, "width": 225, "height": 191,
      "data": {"name": "points"},
      "transform": [{"filter": "datum.group === '46-50 mm'"}],
      "mark": {"type": "circle", "size": 44, "color": "black", "opacity": 1},
      "encoding": {
        "x": {"field": "hours", "type": "quantitative", "scale": {"domain": [-15, 315], "nice": false, "zero": false},
          "axis": {"title": "Stunden nach Häutung", "values": [0, 50, 100, 150, 200, 250, 300], "labelExpr": "datum.value % 100 === 0 ? datum.label : ''", "labelFontSize": {"condition": {"test": "datum.value % 100 !== 0", "value": 0.1}, "value": 18}, "tickOpacity": {"condition": {"test": "datum.value % 100 !== 0", "value": 0}, "value": 1}, "gridWidth": {"condition": {"test": "datum.value % 100 !== 0", "value": 0.6}, "value": 1.2}}},
        "y": {"field": "slope", "type": "quantitative", "scale": {"domain": [-0.027, 0.578], "nice": false, "zero": false},
          "axis": {"title": null, "values": [0, 0.1, 0.2, 0.3, 0.4, 0.5], "labelExpr": "abs(datum.value*5-round(datum.value*5)) < 0.001 ? format(datum.value, '.1f') : ''", "labelFontSize": {"condition": {"test": "abs(datum.value*5-round(datum.value*5)) > 0.001", "value": 0.1}, "value": 18}, "tickOpacity": {"condition": {"test": "abs(datum.value*5-round(datum.value*5)) > 0.001", "value": 0}, "value": 1}, "gridWidth": {"condition": {"test": "abs(datum.value*5-round(datum.value*5)) > 0.001", "value": 0.6}, "value": 1.2}}}
      }
    },
    {
      "title": {"text": "51-55 mm", "offset": 5.7}, "width": 225, "height": 191,
      "data": {"name": "points"},
      "transform": [{"filter": "datum.group === '51-55 mm'"}],
      "mark": {"type": "circle", "size": 44, "color": "black", "opacity": 1},
      "encoding": {
        "x": {"field": "hours", "type": "quantitative", "scale": {"domain": [-15, 315], "nice": false, "zero": false},
          "axis": {"title": "Stunden nach Häutung", "values": [0, 50, 100, 150, 200, 250, 300], "labelExpr": "datum.value % 100 === 0 ? datum.label : ''", "labelFontSize": {"condition": {"test": "datum.value % 100 !== 0", "value": 0.1}, "value": 18}, "tickOpacity": {"condition": {"test": "datum.value % 100 !== 0", "value": 0}, "value": 1}, "gridWidth": {"condition": {"test": "datum.value % 100 !== 0", "value": 0.6}, "value": 1.2}}},
        "y": {"field": "slope", "type": "quantitative", "scale": {"domain": [-0.013, 0.607], "nice": false, "zero": false},
          "axis": {"title": null, "values": [0, 0.1, 0.2, 0.3, 0.4, 0.5, 0.6], "labelExpr": "abs(datum.value*5-round(datum.value*5)) < 0.001 ? format(datum.value, '.1f') : ''", "labelFontSize": {"condition": {"test": "abs(datum.value*5-round(datum.value*5)) > 0.001", "value": 0.1}, "value": 18}, "tickOpacity": {"condition": {"test": "abs(datum.value*5-round(datum.value*5)) > 0.001", "value": 0}, "value": 1}, "gridWidth": {"condition": {"test": "abs(datum.value*5-round(datum.value*5)) > 0.001", "value": 0.6}, "value": 1.2}}}
      }
    },
    {
      "title": {"text": "55-60 mm", "offset": 6.9}, "width": 225, "height": 191,
      "data": {"name": "points"},
      "transform": [{"filter": "datum.group === '55-60 mm'"}],
      "mark": {"type": "circle", "size": 44, "color": "black", "opacity": 1},
      "encoding": {
        "x": {"field": "hours", "type": "quantitative", "scale": {"domain": [-15, 315], "nice": false, "zero": false},
          "axis": {"title": "Stunden nach Häutung", "values": [0, 50, 100, 150, 200, 250, 300], "labelExpr": "datum.value % 100 === 0 ? datum.label : ''", "labelFontSize": {"condition": {"test": "datum.value % 100 !== 0", "value": 0.1}, "value": 18}, "tickOpacity": {"condition": {"test": "datum.value % 100 !== 0", "value": 0}, "value": 1}, "gridWidth": {"condition": {"test": "datum.value % 100 !== 0", "value": 0.6}, "value": 1.2}}},
        "y": {"field": "slope", "type": "quantitative", "scale": {"domain": [-0.022, 0.815], "nice": false, "zero": false},
          "axis": {"title": null, "values": [0, 0.1, 0.2, 0.3, 0.4, 0.5, 0.6, 0.7, 0.8], "labelExpr": "abs(datum.value*5-round(datum.value*5)) < 0.001 ? format(datum.value, '.1f') : ''", "labelFontSize": {"condition": {"test": "abs(datum.value*5-round(datum.value*5)) > 0.001", "value": 0.1}, "value": 18}, "tickOpacity": {"condition": {"test": "abs(datum.value*5-round(datum.value*5)) > 0.001", "value": 0}, "value": 1}, "gridWidth": {"condition": {"test": "abs(datum.value*5-round(datum.value*5)) > 0.001", "value": 0.6}, "value": 1.2}}}
      }
    }
  ],
  "config": {
    "font": "Liberation Sans",
    "view": {"stroke": "#333333", "strokeWidth": 1.3},
    "axis": {
      "domain": false,
      "gridColor": "#EBEBEB",
      "tickColor": "#333333",
      "tickSize": 4.5,
      "tickWidth": 1.1,
      "labelColor": "#4D4D4D",
      "labelFlush": false,
      "labelOverlap": false,
      "titleFontSize": 22.5,
      "titleFontWeight": "normal",
      "titleColor": "black"
    },
    "axisX": {"labelPadding": 7.5, "titlePadding": 6.5},
    "axisY": {"labelPadding": 5, "titlePadding": 5},
    "title": {"fontSize": 27, "fontWeight": "normal", "anchor": "start", "frame": "group", "color": "black"}
  }
}
